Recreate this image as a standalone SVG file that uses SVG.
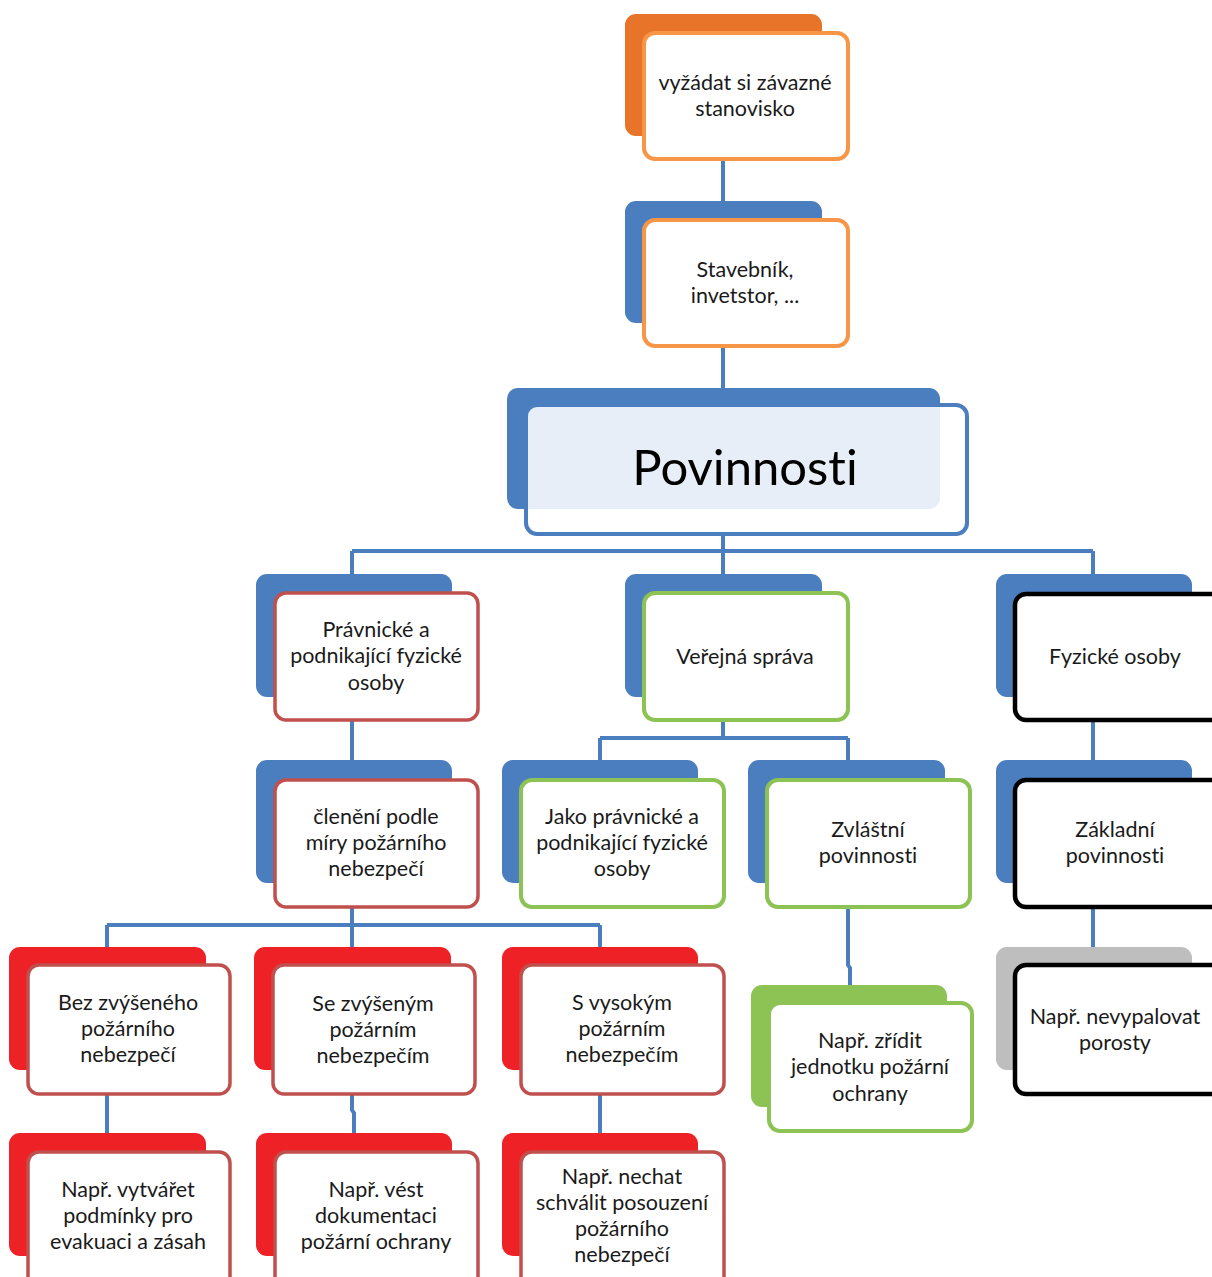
<svg xmlns="http://www.w3.org/2000/svg" width="1212" height="1277" viewBox="0 0 1212 1277">
<style>
.bk{stroke:none}
.b-orange{fill:#E8742A}
.b-blue{fill:#4A7EBE}
.b-red{fill:#EE2226}
.b-green{fill:#8DC255}
.b-gray{fill:#BEBEBE}
.fr{fill:#FFFFFF;stroke-width:4}
.f-orange{stroke:#F79646}
.f-blue{stroke:#4A7EBE;fill-opacity:0.87}
.f-red{stroke:#C0504D;stroke-width:3.5}
.f-green{stroke:#8DC255}
.f-black{stroke:#000000;stroke-width:4.5}
text{font-family:Lato,"Liberation Sans",Arial,sans-serif;font-size:21.5px;fill:#1a1a1a;text-anchor:middle;font-variant-ligatures:none}
.big{font-size:49px;fill:#000}
.con{fill:none;stroke:#4A7EBE;stroke-width:4}
</style>
<g id="connectors">
<path class="con" d="M723 159V218"/>
<path class="con" d="M723 347V390"/>
<path class="con" d="M723 535V551M352 551H1093M352 551V576M723 551V576M1093 551V576"/>
<path class="con" d="M352 720V762"/>
<path class="con" d="M723 720V738M600 738H848M600 738V762M848 738V762"/>
<path class="con" d="M1093 720V762"/>
<path class="con" d="M352 907V925M107 925H600M107 925V949M352 925V949M600 925V949"/>
<path class="con" d="M848 907V965L850 968V987"/>
<path class="con" d="M1093 907V949"/>
<path class="con" d="M107 1095V1135"/>
<path class="con" d="M352 1095V1110L354 1113V1135"/>
<path class="con" d="M600 1095V1135"/>
</g>
<g id="n-stanovisko">
<rect class="bk b-orange" x="625" y="14" width="197" height="122" rx="11"/>
<rect class="fr f-orange" x="644" y="33" width="204" height="126" rx="11"/>
<text x="745" y="90">vyžádat si závazné</text>
<text x="745" y="116">stanovisko</text>
</g>
<g id="n-stavebnik">
<rect class="bk b-blue" x="625" y="201" width="197" height="122" rx="11"/>
<rect class="fr f-orange" x="644" y="220" width="204" height="126" rx="11"/>
<text x="745" y="277">Stavebník,</text>
<text x="745" y="303">invetstor, ...</text>
</g>
<g id="n-povinnosti">
<rect class="bk b-blue" x="507" y="388" width="433" height="121" rx="11"/>
<rect class="fr f-blue" x="526" y="405" width="441" height="129" rx="11"/>
<text class="big" x="745" y="485">Povinnosti</text>
</g>
<g id="n-pravnicke">
<rect class="bk b-blue" x="256" y="574" width="196" height="123" rx="11"/>
<rect class="fr f-red" x="275" y="593" width="203" height="127" rx="11"/>
<text x="376" y="637">Právnické a</text>
<text x="376" y="663">podnikající fyzické</text>
<text x="376" y="690">osoby</text>
</g>
<g id="n-verejna">
<rect class="bk b-blue" x="625" y="574" width="197" height="123" rx="11"/>
<rect class="fr f-green" x="644" y="593" width="204" height="127" rx="11"/>
<text x="745" y="664">Veřejná správa</text>
</g>
<g id="n-fyzicke">
<rect class="bk b-blue" x="996" y="574" width="196" height="123" rx="11"/>
<rect class="fr f-black" x="1015" y="594" width="210" height="126" rx="11"/>
<text x="1115" y="664">Fyzické osoby</text>
</g>
<g id="n-cleneni">
<rect class="bk b-blue" x="256" y="760" width="196" height="123" rx="11"/>
<rect class="fr f-red" x="275" y="780" width="203" height="127" rx="11"/>
<text x="376" y="824">členění podle</text>
<text x="376" y="850">míry požárního</text>
<text x="376" y="876">nebezpečí</text>
</g>
<g id="n-jako">
<rect class="bk b-blue" x="502" y="760" width="196" height="123" rx="11"/>
<rect class="fr f-green" x="521" y="780" width="203" height="127" rx="11"/>
<text x="622" y="824">Jako právnické a</text>
<text x="622" y="850">podnikající fyzické</text>
<text x="622" y="876">osoby</text>
</g>
<g id="n-zvlastni">
<rect class="bk b-blue" x="748" y="760" width="197" height="123" rx="11"/>
<rect class="fr f-green" x="767" y="780" width="203" height="127" rx="11"/>
<text x="868" y="837">Zvláštní</text>
<text x="868" y="863">povinnosti</text>
</g>
<g id="n-zakladni">
<rect class="bk b-blue" x="996" y="760" width="196" height="123" rx="11"/>
<rect class="fr f-black" x="1015" y="780" width="210" height="127" rx="11"/>
<text x="1115" y="837">Základní</text>
<text x="1115" y="863">povinnosti</text>
</g>
<g id="n-bez">
<rect class="bk b-red" x="9" y="947" width="197" height="123" rx="11"/>
<rect class="fr f-red" x="28" y="965" width="202" height="129" rx="11"/>
<text x="128" y="1010">Bez zvýšeného</text>
<text x="128" y="1036">požárního</text>
<text x="128" y="1062">nebezpečí</text>
</g>
<g id="n-se">
<rect class="bk b-red" x="254" y="947" width="197" height="123" rx="11"/>
<rect class="fr f-red" x="273" y="965" width="202" height="129" rx="11"/>
<text x="373" y="1011">Se zvýšeným</text>
<text x="373" y="1037">požárním</text>
<text x="373" y="1063">nebezpečím</text>
</g>
<g id="n-vysokym">
<rect class="bk b-red" x="502" y="947" width="196" height="123" rx="11"/>
<rect class="fr f-red" x="521" y="965" width="203" height="129" rx="11"/>
<text x="622" y="1010">S vysokým</text>
<text x="622" y="1036">požárním</text>
<text x="622" y="1062">nebezpečím</text>
</g>
<g id="n-zridit">
<rect class="bk b-green" x="751" y="985" width="196" height="122" rx="11"/>
<rect class="fr f-green" x="769" y="1003" width="203" height="128" rx="11"/>
<text x="870" y="1048">Např. zřídit</text>
<text x="870" y="1074">jednotku požární</text>
<text x="870" y="1101">ochrany</text>
</g>
<g id="n-nevypalovat">
<rect class="bk b-gray" x="996" y="947" width="196" height="123" rx="11"/>
<rect class="fr f-black" x="1015" y="965" width="210" height="129" rx="11"/>
<text x="1115" y="1024">Např. nevypalovat</text>
<text x="1115" y="1050">porosty</text>
</g>
<g id="n-vytvaret">
<rect class="bk b-red" x="9" y="1133" width="197" height="123" rx="11"/>
<rect class="fr f-red" x="28" y="1152" width="202" height="140" rx="11"/>
<text x="128" y="1197">Např. vytvářet</text>
<text x="128" y="1223">podmínky pro</text>
<text x="128" y="1249">evakuaci a zásah</text>
</g>
<g id="n-vest">
<rect class="bk b-red" x="256" y="1133" width="196" height="123" rx="11"/>
<rect class="fr f-red" x="275" y="1152" width="203" height="140" rx="11"/>
<text x="376" y="1197">Např. vést</text>
<text x="376" y="1223">dokumentaci</text>
<text x="376" y="1249">požární ochrany</text>
</g>
<g id="n-nechat">
<rect class="bk b-red" x="502" y="1133" width="196" height="123" rx="11"/>
<rect class="fr f-red" x="521" y="1152" width="203" height="140" rx="11"/>
<text x="622" y="1184">Např. nechat</text>
<text x="622" y="1210">schválit posouzení</text>
<text x="622" y="1236">požárního</text>
<text x="622" y="1262">nebezpečí</text>
</g>
</svg>
